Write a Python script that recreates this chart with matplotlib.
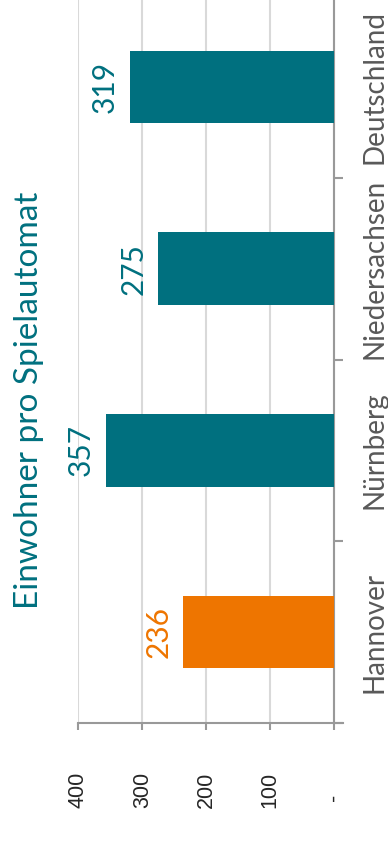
import matplotlib
matplotlib.use("Agg")
import matplotlib.pyplot as plt

# Data
categories = ["Hannover", "Nürnberg", "Niedersachsen", "Deutschland"]
values = [236, 357, 275, 319]
highlight = "Hannover"
value_ticks = [0, 100, 200, 300, 400]
value_tick_labels = ["-", "100", "200", "300", "400"]
title = "Einwohner pro Spielautomat"

TEAL = "#00707F"
ORANGE = "#EE7500"
GRID = "#D9D9D9"
AXIS = "#999999"
LABEL = "#595959"

W, H, DPI = 388, 851, 100
fig = plt.figure(figsize=(W / DPI, H / DPI), dpi=DPI)
fig.patch.set_facecolor("white")

# Axes placed in pixel terms (the chart reads bottom-to-top)
left_px, right_px, bottom_px, top_px = 78.3, 343.3, 723.0, -4.0
ax = fig.add_axes([left_px / W, 1 - bottom_px / H,
                   (right_px - left_px) / W, (bottom_px - top_px) / H])

pos = list(range(len(categories)))
colors = [ORANGE if c == highlight else TEAL for c in categories]
ax.barh(pos, values, height=0.4, color=colors, zorder=3)

ax.set_xlim(400, -14)
ax.set_ylim(-0.5, len(categories) - 0.5)

# Grid and spines
ax.set_xticks(value_ticks)
ax.grid(axis="x", color=GRID, lw=1.5, zorder=0)
ax.set_axisbelow(True)
for s in ("left", "top"):
    ax.spines[s].set_visible(False)
ax.spines["right"].set_position(("data", 0))
ax.spines["right"].set_color(AXIS)
ax.spines["right"].set_linewidth(1.5)
ax.spines["bottom"].set_color(AXIS)
ax.spines["bottom"].set_linewidth(1.5)

ax.tick_params(axis="x", direction="out", length=5, width=1.5, color=AXIS,
               labelbottom=False)

# Category axis: labels at bar centres, tick marks between categories
ax.yaxis.tick_right()
ax.set_yticks(pos)
ax.set_yticks([p - 0.5 for p in pos] + [pos[-1] + 0.5], minor=True)
ax.tick_params(axis="y", which="major", length=0, pad=19.5)
ax.tick_params(axis="y", which="minor", direction="out", length=6.5,
               width=1.5, color=AXIS)
ax.set_yticklabels(categories, rotation=90, va="center", ha="left",
                   color=LABEL, fontsize=20, family="Lato")

# Value-axis labels below the axis
for v, lab in zip(value_ticks, value_tick_labels):
    drop = 49 if lab != "-" else 71
    ax.annotate(lab, xy=(v, 0), xycoords=("data", "axes fraction"),
                xytext=(0, -drop), textcoords="offset pixels",
                rotation=90, ha="center", va="top", fontsize=15.5,
                family="Liberation Sans", color="#262626")

# Value labels beyond the bar ends
for p, v, c in zip(pos, values, colors):
    ax.annotate(str(v), xy=(v, p), xytext=(-11, 0),
                textcoords="offset pixels", rotation=90,
                ha="right", va="center", fontsize=21.5, family="Lato",
                color=c)

# Title
fig.text(29 / W, 1 - 400 / H, title, rotation=90, ha="center", va="center",
         fontsize=24, family="Lato", color=TEAL)

fig.savefig("out.png", dpi=DPI)
